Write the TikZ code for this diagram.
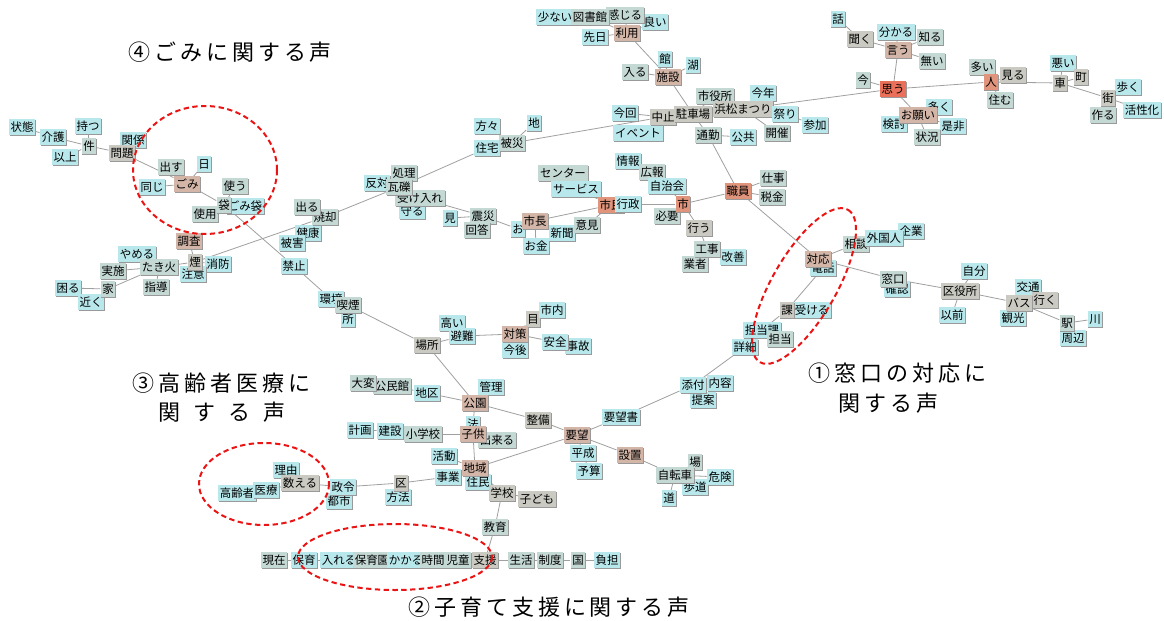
\documentclass[tikz,border=0pt]{standalone}
\usepackage{fontspec}
\newfontfamily\jpfont{Noto Sans CJK JP}
\newfontfamily\jptitle[LetterSpace=18]{Noto Sans CJK JP}
\newfontfamily\jpwide[LetterSpace=60]{Noto Sans CJK JP}
\usetikzlibrary{backgrounds,shadows}

\definecolor{kwA}{RGB}{184,232,236}
\definecolor{kwB}{RGB}{196,216,212}
\definecolor{kwC}{RGB}{202,202,194}
\definecolor{kwD}{RGB}{212,182,168}
\definecolor{kwE}{RGB}{224,148,124}
\definecolor{kwF}{RGB}{234,112,90}
\definecolor{tiegray}{RGB}{160,160,160}
\definecolor{ringred}{RGB}{235,20,20}

\tikzset{
	word/.style={rectangle, font=\jpfont\fontsize{8.6}{9}\selectfont, inner xsep=1.3pt, inner ysep=0pt, minimum height=11.5pt,
		drop shadow={shadow xshift=0.7pt, shadow yshift=-0.7pt, fill=black!40, opacity=1}},
	lv1/.style={word, fill=kwA},
	lv2/.style={word, fill=kwB},
	lv3/.style={word, fill=kwC},
	lv4/.style={word, fill=kwD},
	lv5/.style={word, fill=kwE},
	lv6/.style={word, fill=kwF},
	tie/.style={draw=tiegray, line width=0.6pt},
	ring/.style={draw=ringred, line width=1.5pt, dash pattern=on 4pt off 2.6pt},
	voice/.style={anchor=west, inner sep=0pt, font=\jptitle\fontsize{16.5}{19}\selectfont}
}

\begin{document}
\begin{tikzpicture}[x=0.75pt, y=-0.75pt]
	\useasboundingbox (0,0) rectangle (1164,621);

	% ごみ
	\node[lv1] (jotai) at (22,127) {状態};
	\node[lv1] (kaigo) at (53,137) {介護};
	\node[lv1] (motsu) at (88,126) {持つ};
	\node[lv2] (ken) at (89,146) {件};
	\node[lv1] (ijou) at (65,157) {以上};
	\node[lv1] (kankei) at (133,140) {関係};
	\node[lv3] (mondai) at (122,153) {問題};
	\node[lv2] (dasu) at (171,167) {出す};
	\node[lv1] (hi) at (204,164) {日};
	\node[lv1] (onaji) at (152,187) {同じ};
	\node[lv4] (gomi) at (187,184) {ごみ};
	\node[lv2] (tsukau) at (235,186) {使う};
	\node[lv1] (gomibukuro) at (245,206) {ごみ袋};
	\node[lv2] (shiyou) at (205,214) {使用};
	\node[lv2] (fukuro) at (224,205) {袋};

	% たき火
	\node[lv4] (chousa) at (189,241) {調査};
	\node[lv1] (shoubou) at (218,264) {消防};
	\node[lv1] (chuui) at (193,274) {注意};
	\node[lv3] (kemuri) at (195,262) {煙};
	\node[lv1] (yameru) at (137,254) {やめる};
	\node[lv2] (jisshi) at (113,271) {実施};
	\node[lv2] (takibi) at (159,267) {たき火};
	\node[lv2] (shidou) at (156,287) {指導};
	\node[lv1] (komaru) at (68,288) {困る};
	\node[lv1] (chikaku) at (91,302) {近く};
	\node[lv2] (ie) at (108,289) {家};

	% 焼却・瓦礫
	\node[lv1] (kenkou) at (308,233) {健康};
	\node[lv2] (shoukyaku) at (325,217) {焼却};
	\node[lv2] (deru) at (307,207) {出る};
	\node[lv1] (higai) at (292,243) {被害};
	\node[lv1] (kinshi) at (294,266) {禁止};
	\node[lv1] (mamoru) at (412,211) {守る};
	\node[lv2] (ukeire) at (420,198) {受け入れ};
	\node[lv2] (shori) at (404,173) {処理};
	\node[lv1] (hantai) at (377,183) {反対};
	\node[lv2] (gareki) at (399,187) {瓦礫};
	\node[lv1] (katagata) at (487,126) {方々};
	\node[lv1] (chi) at (534,123) {地};
	\node[lv1] (juutaku) at (487,148) {住宅};
	\node[lv2] (hisai) at (512,143) {被災};

	% 市長・市民・市
	\node[lv1] (mi) at (450,218) {見};
	\node[lv2] (shinsai) at (483,216) {震災};
	\node[lv2] (kaitou) at (477,230) {回答};
	\node[lv1] (o) at (518,229) {お};
	\node[lv1] (okane) at (536,246) {お金};
	\node[lv4] (shichou) at (535,221) {市長};
	\node[lv1] (shinbun) at (562,233) {新聞};
	\node[lv2] (center) at (563,173) {センター};
	\node[lv1] (service) at (576,189) {サービス};
	\node[lv2] (iken) at (587,225) {意見};
	\node[lv5] (shimin) at (611,205) {市民};
	\node[lv1] (gyousei) at (628,204) {行政};
	\node[lv1] (jouhou) at (628,161) {情報};
	\node[lv2] (kouhou) at (652,172) {広報};
	\node[lv1] (jichikai) at (667,186) {自治会};
	\node[lv2] (hitsuyou) at (667,216) {必要};
	\node[lv5] (shi) at (683,204) {市};
	\node[lv3] (okonau) at (699,228) {行う};
	\node[lv2] (gyousha) at (695,264) {業者};
	\node[lv1] (kaizen) at (733,257) {改善};
	\node[lv2] (kouji) at (707,249) {工事};
	\node[lv5] (shokuin) at (738,191) {職員};
	\node[lv2] (shigoto) at (773,178) {仕事};
	\node[lv2] (zeikin) at (772,197) {税金};

	% 施設・駐車場
	\node[lv1] (yoi) at (655,22) {良い};
	\node[lv2] (kanjiru) at (625,15) {感じる};
	\node[lv1] (sukunai) at (555,17) {少ない};
	\node[lv2] (toshokan) at (590,17) {図書館};
	\node[lv1] (senjitsu) at (595,37) {先日};
	\node[lv4] (riyou) at (627,33) {利用};
	\node[lv1] (kan) at (665,59) {館};
	\node[lv1] (mizuumi) at (693,65) {湖};
	\node[lv2] (hairu) at (635,72) {入る};
	\node[lv4] (shisetsu) at (668,77) {施設};
	\node[lv2] (shiyakusho) at (715,96) {市役所};
	\node[lv1] (kotoshi) at (763,93) {今年};
	\node[lv1] (konkai) at (625,113) {今回};
	\node[lv1] (ivent) at (638,133) {イベント};
	\node[lv3] (chuushi) at (663,117) {中止};
	\node[lv3] (chuushajou) at (693,114) {駐車場};
	\node[lv3] (matsuri) at (743,109) {浜松まつり};
	\node[lv2] (kaisai) at (777,133) {開催};
	\node[lv1] (sairi) at (785,114) {祭り};
	\node[lv1] (sanka) at (815,125) {参加};
	\node[lv2] (tsuukin) at (708,135) {通勤};
	\node[lv1] (koukyou) at (743,137) {公共};

	% 思う・人
	\node[lv1] (hanashi) at (838,19) {話};
	\node[lv3] (kiku) at (860,39) {聞く};
	\node[lv1] (wakaru) at (896,32) {分かる};
	\node[lv2] (shiru) at (930,37) {知る};
	\node[lv4] (iu) at (898,50) {言う};
	\node[lv2] (nai) at (932,61) {無い};
	\node[lv2] (ima) at (863,80) {今};
	\node[lv6] (omou) at (893,89) {思う};
	\node[lv1] (ooku) at (939,107) {多く};
	\node[lv1] (kentou) at (894,124) {検討};
	\node[lv1] (zehi) at (953,126) {是非};
	\node[lv2] (joukyou) at (927,137) {状況};
	\node[lv4] (onegai) at (918,115) {お願い};
	\node[lv2] (ooi) at (982,67) {多い};
	\node[lv3] (miru) at (1013,75) {見る};
	\node[lv5] (hito) at (991,82) {人};
	\node[lv2] (sumu) at (1000,100) {住む};
	\node[lv1] (warui) at (1063,63) {悪い};
	\node[lv3] (machi) at (1081,77) {町};
	\node[lv3] (kuruma) at (1060,83) {車};
	\node[lv1] (aruku) at (1128,87) {歩く};
	\node[lv3] (gai) at (1108,98) {街};
	\node[lv2] (tsukuru) at (1103,115) {作る};
	\node[lv1] (kasseika) at (1142,110) {活性化};

	% 対応・区役所
	\node[lv1] (kigyou) at (911,231) {企業};
	\node[lv2] (soudan) at (856,244) {相談};
	\node[lv1] (gaikokujin) at (884,238) {外国人};
	\node[lv1] (denwa) at (823,268) {電話};
	\node[lv4] (taiou) at (818,259) {対応};
	\node[lv1] (kakunin) at (897,289) {確認};
	\node[lv2] (madoguchi) at (893,279) {窓口};
	\node[lv1] (jibun) at (974,271) {自分};
	\node[lv3] (kuyakusho) at (960,291) {区役所};
	\node[lv1] (izen) at (952,315) {以前};
	\node[lv1] (koutsuu) at (1028,287) {交通};
	\node[lv1] (kankou) at (1013,318) {観光};
	\node[lv3] (iku) at (1045,300) {行く};
	\node[lv3] (basu) at (1019,303) {バス};
	\node[lv1] (shuuhen) at (1073,338) {周辺};
	\node[lv2] (eki) at (1067,323) {駅};
	\node[lv1] (kawa) at (1095,319) {川};
	\node[lv1] (ukeru) at (812,310) {受ける};
	\node[lv3] (ka) at (787,310) {課};
	\node[lv1] (shousai) at (745,347) {詳細};
	\node[lv1] (tantouka) at (762,330) {担当課};
	\node[lv2] (tantou) at (780,339) {担当};

	% 場所・公園
	\node[lv1] (kankyou) at (331,299) {環境};
	\node[lv1] (tokoro) at (348,319) {所};
	\node[lv2] (kitsuen) at (348,305) {喫煙};
	\node[lv3] (basho) at (427,345) {場所};
	\node[lv1] (takai) at (452,323) {高い};
	\node[lv1] (hinan) at (462,336) {避難};
	\node[lv3] (me) at (533,319) {目};
	\node[lv1] (shinai) at (552,310) {市内};
	\node[lv1] (kongo) at (515,350) {今後};
	\node[lv4] (taisaku) at (515,334) {対策};
	\node[lv1] (jiko) at (578,346) {事故};
	\node[lv1] (anzen) at (555,342) {安全};
	\node[lv2] (kouminkan) at (392,386) {公民館};
	\node[lv2] (taihen) at (363,383) {大変};
	\node[lv1] (chiku) at (427,393) {地区};
	\node[lv1] (kanri) at (491,387) {管理};
	\node[lv1] (hou) at (473,424) {法};
	\node[lv4] (kouen) at (475,403) {公園};
	\node[lv3] (seibi) at (538,420) {整備};
	\node[lv1] (keikaku) at (360,430) {計画};
	\node[lv1] (kensetsu) at (390,431) {建設};
	\node[lv2] (shougakkou) at (423,434) {小学校};
	\node[lv2] (dekiru) at (497,440) {出来る};
	\node[lv4] (kodomo) at (473,434) {子供};
	\node[lv1] (juumin) at (478,482) {住民};
	\node[lv1] (jigyou) at (448,477) {事業};
	\node[lv1] (katsudou) at (444,456) {活動};
	\node[lv4] (chiiki) at (475,468) {地域};

	% 要望
	\node[lv4] (youbou) at (577,435) {要望};
	\node[lv1] (heisei) at (583,453) {平成};
	\node[lv1] (yosan) at (589,471) {予算};
	\node[lv4] (setchi) at (630,455) {設置};
	\node[lv1] (youbousho) at (621,417) {要望書};
	\node[lv1] (teian) at (703,400) {提案};
	\node[lv1] (tenpu) at (693,385) {添付};
	\node[lv1] (naiyou) at (720,383) {内容};
	\node[lv2] (ba) at (695,462) {場};
	\node[lv1] (hodou) at (695,487) {歩道};
	\node[lv1] (kiken) at (720,477) {危険};
	\node[lv1] (michi) at (669,498) {道};
	\node[lv2] (jitensha) at (675,475) {自転車};

	% 区・学校・支援
	\node[lv1] (koureisha) at (237,493) {高齢者};
	\node[lv1] (iryou) at (266,490) {医療};
	\node[lv1] (riyuu) at (286,470) {理由};
	\node[lv3] (kazoeru) at (300,483) {数える};
	\node[lv1] (toshi) at (339,501) {都市};
	\node[lv1] (seirei) at (343,487) {政令};
	\node[lv1] (houhou) at (398,497) {方法};
	\node[lv3] (ku) at (401,483) {区};
	\node[lv3] (gakkou) at (502,493) {学校};
	\node[lv3] (kodomo2) at (537,499) {子ども};
	\node[lv2] (kyouiku) at (495,527) {教育};
	\node[lv2] (genzai) at (274,560) {現在};
	\node[lv1] (hoiku) at (304,560) {保育};
	\node[lv1] (ireru) at (339,560) {入れる};
	\node[lv2] (hoikuen) at (372,560) {保育園};
	\node[lv1] (kakaru) at (406,560) {かかる};
	\node[lv2] (jikan) at (433,560) {時間};
	\node[lv2] (jidou) at (458,560) {児童};
	\node[lv3] (shien) at (485,560) {支援};
	\node[lv2] (seikatsu) at (521,560) {生活};
	\node[lv2] (seido) at (550,560) {制度};
	\node[lv2] (kuni) at (578,560) {国};
	\node[lv1] (futan) at (607,560) {負担};

	% 声
	\node[voice] (lblGomi) at (128,52) {④ごみに関する声};
	\node[voice] (lblIryo) at (132,383) {③高齢者医療に};
	\node[voice, font=\jpwide\fontsize{16.5}{19}\selectfont] (lblIryoB) at (158,412) {関する声};
	\node[voice] (lblMado) at (808,373) {①窓口の対応に};
	\node[voice] (lblMadoB) at (838,403) {関する声};
	\node[voice] (lblKosodate) at (408,607) {②子育て支援に関する声};

	% 枠
	\draw[ring] (205,170) ellipse [x radius=72, y radius=64];
	\draw[ring, shift={(804,286)}, rotate=60] (0,0) ellipse [x radius=88, y radius=32];
	\draw[ring] (264,484) ellipse [x radius=65, y radius=41];
	\draw[ring] (395,557) ellipse [x radius=97, y radius=33];

	\begin{scope}[on background layer]
		\fill[white] (0,0) rectangle (1164,621);
		\draw[tie] (jotai) -- (kaigo);
		\draw[tie] (kaigo) -- (ken);
		\draw[tie] (motsu) -- (ken);
		\draw[tie] (ijou) -- (ken);
		\draw[tie] (ken) -- (mondai);
		\draw[tie] (kankei) -- (mondai);
		\draw[tie] (mondai) -- (gomi);
		\draw[tie] (dasu) -- (gomi);
		\draw[tie] (hi) -- (gomi);
		\draw[tie] (onaji) -- (gomi);
		\draw[tie] (gomi) -- (fukuro);
		\draw[tie] (tsukau) -- (fukuro);
		\draw[tie] (shiyou) -- (fukuro);
		\draw[tie] (gomibukuro) -- (fukuro);
		\draw[tie] (fukuro) -- (kinshi);
		\draw[tie] (chousa) -- (kemuri);
		\draw[tie] (kemuri) -- (shoubou);
		\draw[tie] (kemuri) -- (chuui);
		\draw[tie] (kemuri) -- (takibi);
		\draw[tie] (yameru) -- (takibi);
		\draw[tie] (jisshi) -- (takibi);
		\draw[tie] (shidou) -- (takibi);
		\draw[tie] (ie) -- (takibi);
		\draw[tie] (komaru) -- (ie);
		\draw[tie] (chikaku) -- (ie);
		\draw[tie] (kemuri) -- (shoukyaku);
		\draw[tie] (deru) -- (shoukyaku);
		\draw[tie] (kenkou) -- (shoukyaku);
		\draw[tie] (shoukyaku) -- (gareki);
		\draw[tie] (kinshi) -- (kankyou);
		\draw[tie] (gareki) -- (shori);
		\draw[tie] (gareki) -- (hantai);
		\draw[tie] (gareki) -- (ukeire);
		\draw[tie] (gareki) -- (mamoru);
		\draw[tie] (gareki) -- (juutaku);
		\draw[tie] (juutaku) -- (hisai);
		\draw[tie] (katagata) -- (hisai);
		\draw[tie] (chi) -- (hisai);
		\draw[tie] (hisai) -- (chuushi);
		\draw[tie] (ukeire) -- (shinsai);
		\draw[tie] (mi) -- (shinsai);
		\draw[tie] (kaitou) -- (shinsai);
		\draw[tie] (shinsai) -- (o);
		\draw[tie] (o) -- (shichou);
		\draw[tie] (okane) -- (shichou);
		\draw[tie] (shinbun) -- (shichou);
		\draw[tie] (shichou) -- (shimin);
		\draw[tie] (center) -- (shimin);
		\draw[tie] (service) -- (shimin);
		\draw[tie] (iken) -- (shimin);
		\draw[tie] (shimin) -- (gyousei);
		\draw[tie] (gyousei) -- (shi);
		\draw[tie] (jouhou) -- (kouhou);
		\draw[tie] (kouhou) -- (jichikai);
		\draw[tie] (jichikai) -- (shi);
		\draw[tie] (hitsuyou) -- (shi);
		\draw[tie] (shi) -- (okonau);
		\draw[tie] (okonau) -- (kouji);
		\draw[tie] (kouji) -- (gyousha);
		\draw[tie] (kouji) -- (kaizen);
		\draw[tie] (shi) -- (shokuin);
		\draw[tie] (shokuin) -- (shigoto);
		\draw[tie] (shokuin) -- (zeikin);
		\draw[tie] (tsuukin) -- (shokuin);
		\draw[tie] (tsuukin) -- (chuushajou);
		\draw[tie] (tsuukin) -- (koukyou);
		\draw[tie] (chuushajou) -- (matsuri);
		\draw[tie] (chuushajou) -- (shiyakusho);
		\draw[tie] (shisetsu) -- (chuushajou);
		\draw[tie] (shisetsu) -- (kan);
		\draw[tie] (shisetsu) -- (mizuumi);
		\draw[tie] (shisetsu) -- (hairu);
		\draw[tie] (riyou) -- (shisetsu);
		\draw[tie] (riyou) -- (senjitsu);
		\draw[tie] (riyou) -- (kanjiru);
		\draw[tie] (riyou) -- (yoi);
		\draw[tie] (riyou) -- (toshokan);
		\draw[tie] (toshokan) -- (sukunai);
		\draw[tie] (chuushi) -- (konkai);
		\draw[tie] (chuushi) -- (ivent);
		\draw[tie] (chuushi) -- (chuushajou);
		\draw[tie] (matsuri) -- (kotoshi);
		\draw[tie] (matsuri) -- (sairi);
		\draw[tie] (sairi) -- (sanka);
		\draw[tie] (matsuri) -- (kaisai);
		\draw[tie] (matsuri) -- (omou);
		\draw[tie] (omou) -- (ima);
		\draw[tie] (omou) -- (iu);
		\draw[tie] (iu) -- (kiku);
		\draw[tie] (kiku) -- (hanashi);
		\draw[tie] (iu) -- (wakaru);
		\draw[tie] (iu) -- (shiru);
		\draw[tie] (iu) -- (nai);
		\draw[tie] (omou) -- (onegai);
		\draw[tie] (onegai) -- (ooku);
		\draw[tie] (onegai) -- (kentou);
		\draw[tie] (onegai) -- (zehi);
		\draw[tie] (onegai) -- (joukyou);
		\draw[tie] (omou) -- (hito);
		\draw[tie] (hito) -- (ooi);
		\draw[tie] (hito) -- (miru);
		\draw[tie] (hito) -- (sumu);
		\draw[tie] (hito) -- (kuruma);
		\draw[tie] (kuruma) -- (warui);
		\draw[tie] (kuruma) -- (machi);
		\draw[tie] (kuruma) -- (gai);
		\draw[tie] (gai) -- (aruku);
		\draw[tie] (gai) -- (tsukuru);
		\draw[tie] (gai) -- (kasseika);
		\draw[tie] (shokuin) -- (taiou);
		\draw[tie] (taiou) -- (soudan);
		\draw[tie] (soudan) -- (gaikokujin);
		\draw[tie] (gaikokujin) -- (kigyou);
		\draw[tie] (taiou) -- (denwa);
		\draw[tie] (taiou) -- (madoguchi);
		\draw[tie] (madoguchi) -- (kakunin);
		\draw[tie] (madoguchi) -- (kuyakusho);
		\draw[tie] (kuyakusho) -- (jibun);
		\draw[tie] (kuyakusho) -- (izen);
		\draw[tie] (kuyakusho) -- (basu);
		\draw[tie] (basu) -- (koutsuu);
		\draw[tie] (basu) -- (iku);
		\draw[tie] (basu) -- (kankou);
		\draw[tie] (basu) -- (eki);
		\draw[tie] (eki) -- (kawa);
		\draw[tie] (eki) -- (shuuhen);
		\draw[tie] (denwa) -- (ka);
		\draw[tie] (ka) -- (ukeru);
		\draw[tie] (ka) -- (tantouka);
		\draw[tie] (tantouka) -- (tantou);
		\draw[tie] (tantouka) -- (shousai);
		\draw[tie] (shousai) -- (tenpu);
		\draw[tie] (tenpu) -- (naiyou);
		\draw[tie] (tenpu) -- (teian);
		\draw[tie] (tenpu) -- (youbousho);
		\draw[tie] (youbousho) -- (youbou);
		\draw[tie] (youbou) -- (setchi);
		\draw[tie] (setchi) -- (jitensha);
		\draw[tie] (jitensha) -- (ba);
		\draw[tie] (jitensha) -- (kiken);
		\draw[tie] (jitensha) -- (hodou);
		\draw[tie] (jitensha) -- (michi);
		\draw[tie] (youbou) -- (heisei);
		\draw[tie] (heisei) -- (yosan);
		\draw[tie] (youbou) -- (seibi);
		\draw[tie] (seibi) -- (kouen);
		\draw[tie] (youbou) -- (chiiki);
		\draw[tie] (kouen) -- (chiku);
		\draw[tie] (chiku) -- (kouminkan);
		\draw[tie] (kouminkan) -- (taihen);
		\draw[tie] (kouen) -- (kanri);
		\draw[tie] (kouen) -- (basho);
		\draw[tie] (kouen) -- (hou);
		\draw[tie] (hou) -- (kodomo);
		\draw[tie] (kodomo) -- (shougakkou);
		\draw[tie] (shougakkou) -- (kensetsu);
		\draw[tie] (kensetsu) -- (keikaku);
		\draw[tie] (kodomo) -- (dekiru);
		\draw[tie] (kodomo) -- (chiiki);
		\draw[tie] (chiiki) -- (katsudou);
		\draw[tie] (chiiki) -- (jigyou);
		\draw[tie] (chiiki) -- (juumin);
		\draw[tie] (chiiki) -- (gakkou);
		\draw[tie] (jigyou) -- (ku);
		\draw[tie] (ku) -- (houhou);
		\draw[tie] (ku) -- (seirei);
		\draw[tie] (seirei) -- (toshi);
		\draw[tie] (seirei) -- (kazoeru);
		\draw[tie] (kazoeru) -- (riyuu);
		\draw[tie] (kazoeru) -- (iryou);
		\draw[tie] (iryou) -- (koureisha);
		\draw[tie] (gakkou) -- (kodomo2);
		\draw[tie] (gakkou) -- (kyouiku);
		\draw[tie] (kyouiku) -- (shien);
		\draw[tie] (shien) -- (jidou);
		\draw[tie] (jidou) -- (jikan);
		\draw[tie] (jikan) -- (kakaru);
		\draw[tie] (kakaru) -- (hoikuen);
		\draw[tie] (hoikuen) -- (ireru);
		\draw[tie] (ireru) -- (hoiku);
		\draw[tie] (hoiku) -- (genzai);
		\draw[tie] (shien) -- (seikatsu);
		\draw[tie] (seikatsu) -- (seido);
		\draw[tie] (seido) -- (kuni);
		\draw[tie] (kuni) -- (futan);
		\draw[tie] (basho) -- (kitsuen);
		\draw[tie] (kitsuen) -- (kankyou);
		\draw[tie] (kitsuen) -- (tokoro);
		\draw[tie] (basho) -- (hinan);
		\draw[tie] (hinan) -- (takai);
		\draw[tie] (hinan) -- (taisaku);
		\draw[tie] (taisaku) -- (me);
		\draw[tie] (me) -- (shinai);
		\draw[tie] (taisaku) -- (kongo);
		\draw[tie] (taisaku) -- (anzen);
		\draw[tie] (anzen) -- (jiko);
	\end{scope}
\end{tikzpicture}
\end{document}
